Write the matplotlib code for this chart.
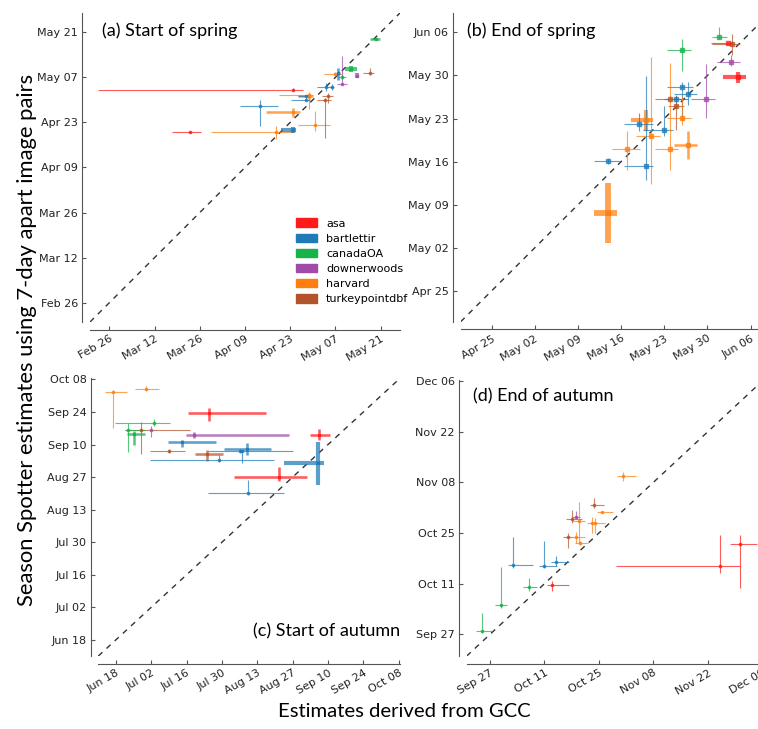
import datetime as dt
import matplotlib
matplotlib.use("Agg")
import matplotlib.pyplot as plt
import matplotlib.dates as mdates
import numpy as np
from matplotlib.patches import Patch

#_________sites and colours__________
site_names = {"asa": "asa", "bart": "bartlettir", "can": "canadaOA",
              "down": "downerwoods", "harv": "harvard", "turk": "turkeypointdbf"}
site_colors = {"asa": "#ff1a1a", "bart": "#1f7ab8", "can": "#16b24a",
               "down": "#a24aa8", "harv": "#ff7f0e", "turk": "#b4532a"}

# all dates are day of year (2015); errors are days below / above
#_________(a) start of spring_________
a_site = ["asa", "asa", "bart", "harv", "bart", "harv", "harv", "harv", "harv", "bart", "bart", "bart",
          "bart", "turk", "turk", "harv", "bart", "down", "can", "can", "down", "turk", "can"]
a_gcc = [113.9, 81.9, 103.7, 108.7, 113.9, 113.9, 120.7, 118.7, 118.7, 117.8, 117.8, 124.0,
         125.8, 123.8, 124.8, 126.9, 127.9, 129.0, 129.0, 131.8, 133.6, 137.8, 139.6]
a_ss = [123.2, 110.0, 118.0, 110.0, 110.7, 116.1, 112.2, 121.6, 121.1, 120.1, 121.1, 124.0,
        124.0, 120.1, 121.1, 128.1, 128.4, 125.0, 127.1, 129.6, 127.5, 128.2, 139.0]
a_gcc_lo = [60.4, 5.4, 6.2, 20.2, 3.6, 8.5, 5.3, 9.1, 3.2, 4.4, 2.4, 2.6,
            0.5, 2.4, 2.1, 3.3, 0.5, 1.6, 1.3, 1.8, 0.0, 2.3, 1.8]
a_gcc_hi = [3.1, 3.4, 5.5, 5.2, 1.0, 2.1, 4.6, 1.4, 1.4, 1.2, 1.3, 2.6,
            0.5, 1.8, 1.5, 2.1, 0.5, 1.6, 1.3, 1.9, 0.0, 1.2, 1.3]
a_ss_lo = [0.4, 0.4, 6.0, 2.0, 1.0, 1.3, 2.0, 4.4, 0.8, 0.5, 0.5, 1.3,
           1.0, 11.9, 2.0, 0.5, 2.1, 0.5, 0.5, 1.0, 0.8, 0.6, 0.3]
a_ss_hi = [0.4, 0.4, 1.9, 2.0, 1.0, 1.3, 4.4, 0.7, 0.8, 0.5, 0.5, 1.3,
           1.0, 0.5, 1.0, 0.5, 1.6, 8.7, 0.5, 1.0, 0.8, 1.6, 0.3]
a_wt = [1, 1, 1, 1, 3, 2, 1, 1, 2, 1, 1, 1, 1, 1, 1, 1, 2, 1, 1, 3, 3, 1, 2]

#_________(b) end of spring___________
b_site = ["can", "turk", "asa", "can", "down", "asa", "bart", "bart", "down", "turk", "turk", "bart",
          "harv", "harv", "harv", "bart", "bart", "bart", "harv", "harv", "harv", "bart", "harv"]
b_gcc = [151.9, 153.9, 153.4, 145.9, 153.8, 154.9, 145.9, 146.9, 149.8, 143.9, 144.9, 144.9,
         145.9, 140.8, 140.0, 138.9, 140.0, 142.9, 136.9, 143.9, 146.9, 133.9, 133.9]
b_ss = [156.2, 155.1, 155.3, 154.2, 152.2, 149.7, 148.1, 147.0, 146.2, 146.2, 145.1, 146.1,
        143.1, 140.1, 142.7, 142.1, 135.3, 141.2, 138.1, 138.1, 138.7, 136.1, 127.7]
b_gcc_lo = [1.2, 3.2, 2.9, 2.4, 2.2, 2.4, 2.4, 2.4, 2.4, 2.4, 1.3, 2.0,
            2.4, 2.4, 2.4, 2.4, 3.5, 3.4, 2.4, 2.4, 2.4, 2.3, 2.3]
b_gcc_hi = [1.2, 1.4, 0.7, 1.4, 1.5, 1.3, 1.8, 1.4, 1.5, 2.4, 1.3, 2.0,
            1.4, 1.5, 1.2, 2.3, 1.2, 1.5, 2.2, 1.4, 1.4, 1.9, 1.4]
b_ss_lo = [0.3, 1.8, 0.0, 3.5, 0.7, 0.9, 5.3, 1.8, 3.1, 0.5, 3.9, 0.5,
           1.1, 7.8, 1.7, 1.2, 2.2, 1.1, 3.4, 3.4, 2.3, 0.5, 4.9]
b_ss_hi = [1.7, 1.7, 0.0, 1.7, 1.2, 0.9, 0.9, 2.0, 5.7, 0.5, 1.8, 0.5,
           3.5, 12.9, 1.7, 1.8, 14.6, 3.8, 2.8, 13.9, 2.3, 0.5, 4.9]
b_wt = [1, 1, 1, 1, 1, 3, 1, 1, 1, 1, 1, 1, 1, 1, 3, 1, 1, 1, 1, 1, 2, 1, 4]

#_________(c) start of autumn_________
c_site = ["harv", "harv", "asa", "can", "turk", "can", "can", "down", "down", "asa", "bart", "turk",
          "turk", "bart", "bart", "bart", "bart", "bart", "asa", "bart"]
c_gcc = [167.9, 180.9, 206.0, 184.1, 178.9, 173.9, 176.1, 182.9, 200.1, 249.6, 195.1, 190.0,
         205.2, 218.2, 220.9, 219.1, 210.0, 248.9, 233.4, 221.1]
c_ss = [275.4, 277.1, 266.4, 262.1, 259.2, 259.2, 257.4, 259.2, 257.1, 257.1, 254.2, 250.2,
        249.1, 250.2, 251.1, 250.2, 246.4, 245.2, 239.2, 232.1]
c_gcc_lo = [3.3, 4.4, 8.3, 15.5, 6.3, 1.3, 2.7, 0.5, 3.3, 3.8, 5.3, 7.5,
            4.9, 12.6, 9.3, 0.5, 27.5, 13.2, 17.6, 15.5]
c_gcc_hi = [5.3, 5.3, 22.6, 6.3, 19.4, 6.6, 4.4, 0.5, 37.6, 4.2, 13.5, 6.3,
            6.0, 21.1, 9.5, 0.5, 21.4, 2.6, 11.3, 14.3]
c_ss_lo = [15.4, 1.0, 3.3, 1.2, 10.4, 9.3, 4.6, 2.9, 1.5, 2.1, 2.1, 0.7,
           3.0, 0.8, 2.6, 5.0, 1.1, 9.6, 2.1, 0.7]
c_ss_hi = [1.0, 1.0, 2.4, 1.7, 3.5, 2.9, 1.4, 1.7, 1.5, 2.4, 0.7, 0.7,
           1.6, 0.8, 2.4, 0.5, 2.1, 9.0, 4.3, 5.6]
c_wt = [1, 1, 2, 1, 1, 1, 2, 1, 2, 2, 2, 1, 2, 1, 2, 1, 1, 3, 2, 1]

#_________(d) end of autumn___________
d_site = ["harv", "turk", "harv", "turk", "down", "harv", "harv", "harv", "turk", "harv", "harv", "bart",
          "bart", "bart", "can", "asa", "can", "can", "asa", "asa"]
d_gcc = [304.1, 296.8, 298.9, 291.0, 292.1, 293.0, 296.2, 297.0, 290.0, 292.1, 293.2, 275.8,
         284.0, 287.0, 280.0, 285.9, 272.8, 267.9, 329.2, 334.3]
d_ss = [313.7, 305.8, 303.9, 301.9, 302.5, 301.2, 300.9, 300.7, 297.0, 297.0, 295.2, 289.1,
        289.0, 289.9, 283.0, 283.6, 278.0, 270.9, 289.0, 294.9]
d_gcc_lo = [1.5, 1.0, 1.4, 1.5, 1.0, 2.0, 1.3, 0.3, 1.3, 1.5, 1.3, 1.3,
            1.3, 1.3, 1.5, 1.3, 1.5, 1.5, 26.9, 2.6]
d_gcc_hi = [3.4, 2.6, 2.7, 2.6, 1.0, 1.5, 3.4, 0.3, 1.3, 2.4, 2.1, 5.3,
            3.2, 3.2, 2.0, 4.5, 1.5, 2.6, 5.2, 4.3]
d_ss_lo = [1.3, 0.9, 0.3, 1.2, 0.5, 5.9, 2.9, 2.8, 3.2, 1.8, 0.5, 0.9,
           0.8, 1.1, 1.1, 1.6, 0.6, 0.5, 2.0, 12.0]
d_ss_hi = [1.3, 1.8, 0.3, 2.5, 1.5, 5.5, 1.6, 1.4, 0.9, 1.4, 0.5, 7.7,
           6.7, 1.7, 2.6, 1.1, 10.6, 4.9, 8.5, 2.6]
d_wt = [1, 1, 1, 1, 1, 1, 1, 1, 1, 1, 1, 1, 1, 1, 1, 1, 1, 1, 1, 1]

#_________axis ranges (day of year)____
a_lim, a_ticks = (51, 147), np.arange(57, 142, 14)
b_lim, b_ticks = (110, 158.5), np.arange(115, 158, 7)
c_lim, c_ticks = (162, 281.5), np.arange(169, 282, 14)
d_lim, d_ticks = (264, 341), np.arange(270, 341, 14)

base = mdates.date2num(dt.datetime(2014, 12, 31))
title_font = "Lato"


def draw_panel(ax, site, gx, gy, xlo, xhi, ylo, yhi, wt, lim, ylim, ticks, marker_size):
    for i in range(len(site)):
        c = site_colors[site[i]]
        ax.errorbar(base + gx[i], base + gy[i],
                    xerr=[[xlo[i]], [xhi[i]]], yerr=[[ylo[i]], [yhi[i]]],
                    fmt="s", ms=marker_size, color=c, mec=c, ecolor=c,
                    elinewidth=0.8 * wt[i] ** 1.2, capsize=0, alpha=0.72, zorder=3)
    top = min(lim[1], ylim[1])
    ax.plot([base + lim[0], base + top], [base + lim[0], base + top],
            ls=(0, (4, 4)), color="#333333", lw=1, zorder=2)
    ax.set_xlim(base + lim[0], base + lim[1])
    ax.set_ylim(base + ylim[0], base + ylim[1])
    ax.set_xticks(base + ticks)
    ax.set_yticks(base + ticks)
    fmt = mdates.DateFormatter("%b %d")
    ax.xaxis.set_major_formatter(fmt)
    ax.yaxis.set_major_formatter(fmt)
    for s in ["top", "right"]:
        ax.spines[s].set_visible(False)
    for s in ["left", "bottom"]:
        ax.spines[s].set_position(("outward", 5.5))
        ax.spines[s].set_color("#555555")
    ax.tick_params(direction="in", length=3, width=0.8, color="#555555",
                   labelsize=8, labelcolor="#222222", pad=3)
    for lab in ax.get_xticklabels():
        lab.set_rotation(30)
        lab.set_ha("right")
        lab.set_rotation_mode("anchor")


fig = plt.figure(figsize=(7.58, 7.29), dpi=100)

ax_a = fig.add_axes([0.1187, 0.5583, 0.409, 0.4239])
draw_panel(ax_a, a_site, a_gcc, a_ss, a_gcc_lo, a_gcc_hi, a_ss_lo, a_ss_hi, a_wt,
           a_lim, a_lim, a_ticks, 2)
ax_a.text(0.04, 0.97, "(a) Start of spring", transform=ax_a.transAxes,
          fontsize=13, family=title_font, va="top", ha="left")

ax_b = fig.add_axes([0.6078, 0.5587, 0.3947, 0.4239])
draw_panel(ax_b, b_site, b_gcc, b_ss, b_gcc_lo, b_gcc_hi, b_ss_lo, b_ss_hi, b_wt,
           b_lim, (110, 160.2), b_ticks, 3.5)
ax_b.text(0.02, 0.97, "(b) End of spring", transform=ax_b.transAxes,
          fontsize=13, family=title_font, va="top", ha="left")

ax_c = fig.add_axes([0.1297, 0.1001, 0.398, 0.381])
draw_panel(ax_c, c_site, c_gcc, c_ss, c_gcc_lo, c_gcc_hi, c_ss_lo, c_ss_hi, c_wt,
           c_lim, c_lim, c_ticks, 1.5)
ax_c.text(1.0, 0.06, "(c) Start of autumn", transform=ax_c.transAxes,
          fontsize=13, family=title_font, va="bottom", ha="right")

ax_d = fig.add_axes([0.6157, 0.1001, 0.395, 0.3786])
draw_panel(ax_d, d_site, d_gcc, d_ss, d_gcc_lo, d_gcc_hi, d_ss_lo, d_ss_hi, d_wt,
           d_lim, (264, 340.3), d_ticks, 1.5)
ax_d.text(0.02, 0.97, "(d) End of autumn", transform=ax_d.transAxes,
          fontsize=13, family=title_font, va="top", ha="left")

handles = [Patch(color=site_colors[k], label=site_names[k]) for k in site_names]
ax_a.legend(handles=handles, loc="upper left", bbox_to_anchor=(0.665, 0.335),
            frameon=False, fontsize=8, handlelength=1.9, handleheight=0.8,
            handletextpad=0.8, labelspacing=0.45, borderaxespad=0, borderpad=0)

fig.text(0.035, 0.534, "Season Spotter estimates using 7-day apart image pairs",
         rotation=90, ha="center", va="center", fontsize=15.8, family=title_font)
fig.text(0.534, 0.024, "Estimates derived from GCC", ha="center", va="center",
         fontsize=14.6, family=title_font)

fig.savefig("out.png", dpi=100)
